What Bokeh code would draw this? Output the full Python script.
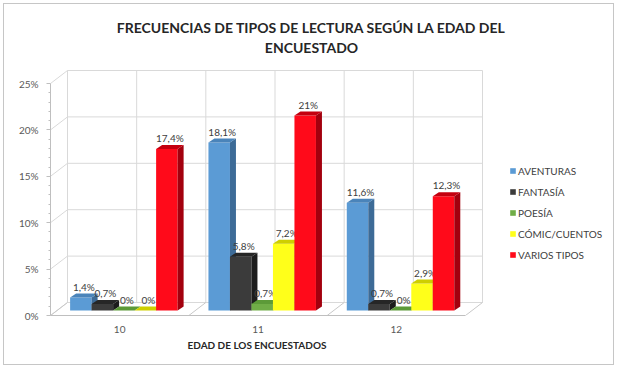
from bokeh.plotting import figure
from bokeh.models import Range1d, FixedTicker, Label, Legend, LegendItem, Title
from bokeh.core.properties import value
from bokeh.embed import file_html
from bokeh.resources import INLINE

# ---------------- data ----------------
ages = ["10", "11", "12"]
series = ["AVENTURAS", "FANTASÍA", "POESÍA", "CÓMIC/CUENTOS", "VARIOS TIPOS"]
aventuras = [1.4, 18.1, 11.6]
fantasia = [0.7, 5.8, 0.7]
poesia = [0.0, 0.7, 0.0]
comic = [0.0, 7.2, 2.9]
varios = [17.4, 21.0, 12.3]
y_ticks = [0, 5, 10, 15, 20, 25]

values = [aventuras, fantasia, poesia, comic, varios]
front_colors = ["#5b9bd5", "#3b3b3b", "#70ad47", "#ffff1a", "#ff0a1a"]
side_colors = ["#3d6b97", "#1c1c1c", "#4c7a2e", "#b0b000", "#a3000e"]
top_colors = ["#4a84ba", "#262626", "#5c9a38", "#cfcf00", "#c4000f"]

FONT = "Lato"
# layout (pixels, relative to the figure canvas)
W, H = 611, 362
L, B = 46, 51
frame_w = W - L
frame_h = H - B
WALL_W, WALL_H = 432, 245          # width / height of the 3D box in px
DEPTH_X, DEPTH_Y = 17, 13          # wall depth in px
n_cat = len(ages)
PX_X = (WALL_W - DEPTH_X) / n_cat                 # px per category
PX_Y = (WALL_H - DEPTH_Y) / y_ticks[-1]           # px per percent
DX = DEPTH_X / PX_X
DY = DEPTH_Y / PX_Y

p = figure(width=W, height=H, output_backend="svg", toolbar_location=None,
           x_range=Range1d(-0.5, -0.5 + frame_w / PX_X),
           y_range=Range1d(0, frame_h / PX_Y),
           min_border_left=L, min_border_right=0, min_border_top=0, min_border_bottom=B,
           background_fill_color="white", border_fill_color="white",
           outline_line_color=None,
           styles={"border": "1px solid #c6c6c6", "margin-left": "3px", "margin-top": "3px"})
p.xgrid.visible = False
p.ygrid.visible = False

GRID = "#d9d9d9"
# back wall horizontal gridlines
p.segment(x0=[-0.5 + DX] * len(y_ticks), x1=[n_cat - 0.5 + DX] * len(y_ticks),
          y0=[t + DY for t in y_ticks], y1=[t + DY for t in y_ticks],
          line_color=GRID, line_width=1)
# back wall verticals (category boundaries and centres)
vx = [-0.5 + DX + k * 0.5 for k in range(2 * n_cat + 1)]
p.segment(x0=vx, x1=vx, y0=[DY] * len(vx), y1=[y_ticks[-1] + DY] * len(vx),
          line_color=GRID, line_width=1)
# side wall diagonals
p.segment(x0=[-0.5] * len(y_ticks), x1=[-0.5 + DX] * len(y_ticks),
          y0=y_ticks, y1=[t + DY for t in y_ticks], line_color=GRID, line_width=1)
# floor diagonals at category boundaries
fx = [-0.5 + k for k in range(n_cat + 1)]
p.segment(x0=fx, x1=[x + DX for x in fx], y0=[0] * len(fx), y1=[DY] * len(fx),
          line_color="#c8c8c8", line_width=1)

# ---------------- bars ----------------
BW = 21.5 / PX_X
BX = 4.2 / PX_X
BASE = 5 / PX_Y
SDX = 6 / PX_X
SDY = 4 / PX_Y

legend_items = []
for i, (name, vals) in enumerate(zip(series, values)):
    cx = [c + (i - 2) * BW + BX for c in range(n_cat)]
    tops = [BASE + v for v in vals]
    r = p.vbar(x=cx, width=BW, bottom=BASE, top=tops,
               fill_color=front_colors[i], line_color=None)
    legend_items.append(LegendItem(label=name, renderers=[r]))
    side_xs, side_ys, top_xs, top_ys = [], [], [], []
    for x, t in zip(cx, tops):
        x0, x1 = x - BW / 2, x + BW / 2
        side_xs.append([x1, x1 + SDX, x1 + SDX, x1])
        side_ys.append([BASE, BASE + SDY, t + SDY, t])
        top_xs.append([x0, x1, x1 + SDX, x0 + SDX])
        top_ys.append([t, t, t + SDY, t + SDY])
    p.patches(xs=side_xs, ys=side_ys, fill_color=side_colors[i], line_color=None)
    p.patches(xs=top_xs, ys=top_ys, fill_color=top_colors[i], line_color=None)

    labels = [(f"{v:.1f}".replace(".", ",") if v != int(v) else f"{int(v)}") + "%" for v in vals]
    p.text(x=cx, y=tops, text=labels, x_offset=3, y_offset=-11,
           text_align="center", text_baseline="middle",
           text_font=value(FONT), text_font_size="10px", text_color="#404040")

# ---------------- axes ----------------
ya = p.yaxis[0]
ya.ticker = FixedTicker(ticks=y_ticks, minor_ticks=[t for t in range(0, 26) if t not in y_ticks])
ya.major_label_overrides = {t: f"{t}%" for t in y_ticks}
ya.bounds = (0, y_ticks[-1])
ya.axis_line_color = "#bfbfbf"
ya.major_tick_line_color = "#bfbfbf"
ya.minor_tick_line_color = "#bfbfbf"
ya.major_tick_in = 0
ya.major_tick_out = 4
ya.minor_tick_in = 0
ya.minor_tick_out = 2
ya.major_label_standoff = 8
ya.major_label_text_font = FONT
ya.major_label_text_font_size = "10px"
ya.major_label_text_color = "#595959"

xa = p.xaxis[0]
xa.ticker = FixedTicker(ticks=list(range(n_cat)))
xa.major_label_overrides = {k: a for k, a in enumerate(ages)}
xa.bounds = (-0.5, n_cat - 0.5)
xa.axis_line_color = "#bfbfbf"
xa.major_tick_line_color = None
xa.minor_tick_line_color = None
xa.major_label_standoff = 4
xa.major_label_text_font = FONT
xa.major_label_text_font_size = "10px"
xa.major_label_text_color = "#595959"

# axis title, placed in the panel below the x axis, starting under category "11"'s left side
p.add_layout(Title(text="EDAD DE LOS ENCUESTADOS", align="left", offset=137, standoff=2,
                   text_font=FONT, text_font_size="10px", text_font_style="bold",
                   text_color="#262626"), "below")

# ---------------- title ----------------
def px_to_x(px):
    return -0.5 + (px - L) / PX_X

def px_to_y(py):
    return (frame_h - py) / PX_Y

for txt, py in [("FRECUENCIAS DE TIPOS DE LECTURA SEGÚN LA EDAD DEL", 23),
                ("ENCUESTADO", 43)]:
    p.add_layout(Label(x=px_to_x(307), y=px_to_y(py), text=txt, text_align="center",
                       text_baseline="middle", text_font=FONT, text_font_size="14px",
                       text_font_style="bold", text_color="#262626"))

# ---------------- legend ----------------
legend = Legend(items=legend_items, location=(459, 54), orientation="vertical",
                glyph_width=7, glyph_height=7, label_height=13, spacing=8,
                label_standoff=2, padding=0, margin=0,
                border_line_color=None, background_fill_alpha=0,
                label_text_font=FONT, label_text_font_size="10px",
                label_text_color="#404040")
p.add_layout(legend, "center")

open("out.html", "w").write(file_html(p, INLINE))
